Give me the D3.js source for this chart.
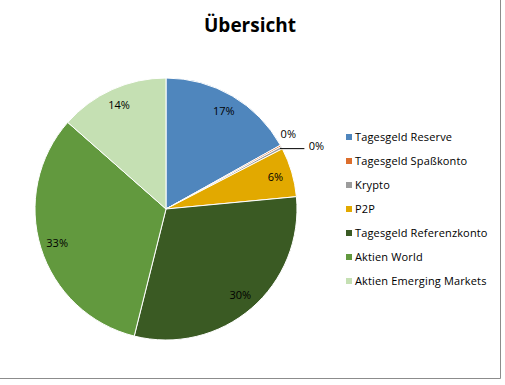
<!DOCTYPE html>
<html>
<head>
<meta charset="utf-8">
<script src="https://cdn.jsdelivr.net/npm/d3@7"></script>
<style>
  body { margin: 0; background: #fff; }
  text { font-family: "Open Sans", "Noto Sans", sans-serif; }
</style>
</head>
<body>
<div id="chart"></div>
<script>
// data
var categories = ["Tagesgeld Reserve", "Tagesgeld Spaßkonto", "Krypto", "P2P",
                  "Tagesgeld Referenzkonto", "Aktien World", "Aktien Emerging Markets"];
var shares = [16.9, 0.2, 0.3, 6.1, 30.4, 32.6, 13.5];
var colors = ["#4f86bd", "#dc6e2c", "#9c9c9c", "#e2a900", "#3a5a23", "#62993e", "#c5e0b3"];

var width = 505, height = 385;
var cx = 166, cy = 209, radius = 131;

var svg = d3.select("#chart")
  .append("svg")
  .attr("width", width)
  .attr("height", height);

// frame (only right and bottom edges visible)
svg.append("path")
  .attr("d", "M500.5,0V378.5H0")
  .attr("fill", "none")
  .attr("stroke", "#8c8c8c")
  .attr("stroke-width", 1);

svg.append("text")
  .attr("x", 250)
  .attr("y", 32)
  .attr("text-anchor", "middle")
  .style("font-size", "19px")
  .style("font-weight", "bold")
  .text("Übersicht");

var data = categories.map(function(c, i) {
  return { name: c, value: shares[i], color: colors[i] };
});

var pie = d3.pie()
  .sort(null)
  .value(function(d) { return d.value; });

var arc = d3.arc().innerRadius(0).outerRadius(radius);
var labelArc = d3.arc().innerRadius(114).outerRadius(114);
var outerArc = d3.arc().innerRadius(radius + 12).outerRadius(radius + 12);

var g = svg.append("g")
  .attr("transform", "translate(" + cx + "," + cy + ")");

var arcs = pie(data);

g.selectAll("path.slice")
  .data(arcs)
  .enter()
  .append("path")
  .attr("class", "slice")
  .attr("d", arc)
  .attr("fill", function(d) { return d.data.color; })
  .attr("stroke", "#fff")
  .attr("stroke-width", 1);

// labels: big slices inside, the tiny ones outside
g.selectAll("text.lbl")
  .data(arcs)
  .enter()
  .append("text")
  .attr("class", "lbl")
  .attr("transform", function(d, i) {
    var p;
    if (i === 1) { p = outerArc.centroid(d); p = [p[0] - 3, p[1] - 6]; }
    else if (i === 2) { p = outerArc.centroid(d); p = [p[0] + 24, p[1] + 4]; }
    else p = labelArc.centroid(d);
    return "translate(" + p + ")";
  })
  .attr("dy", "0.35em")
  .attr("text-anchor", "middle")
  .style("font-size", "11px")
  .text(function(d) { return Math.round(d.data.value) + "%"; });

// leader line for Krypto
var ke = outerArc.centroid(arcs[2]);
var edge = d3.arc().innerRadius(radius - 2).outerRadius(radius - 2).centroid(arcs[2]);
g.append("polyline")
  .attr("points", [edge, [ke[0] + 12, edge[1]]].join(" "))
  .attr("fill", "none")
  .attr("stroke", "#000")
  .attr("stroke-width", 1);

// legend
var legend = svg.append("g")
  .attr("transform", "translate(346,137)");

var item = legend.selectAll("g.item")
  .data(data)
  .enter()
  .append("g")
  .attr("class", "item")
  .attr("transform", function(d, i) { return "translate(0," + i * 24 + ")"; });

item.append("rect")
  .attr("x", 0)
  .attr("y", -3)
  .attr("width", 6)
  .attr("height", 6)
  .attr("fill", function(d) { return d.color; });

item.append("text")
  .attr("x", 9)
  .attr("dy", "0.35em")
  .style("font-size", "11px")
  .style("letter-spacing", "0.15px")
  .text(function(d) { return d.name; });
</script>
</body>
</html>
